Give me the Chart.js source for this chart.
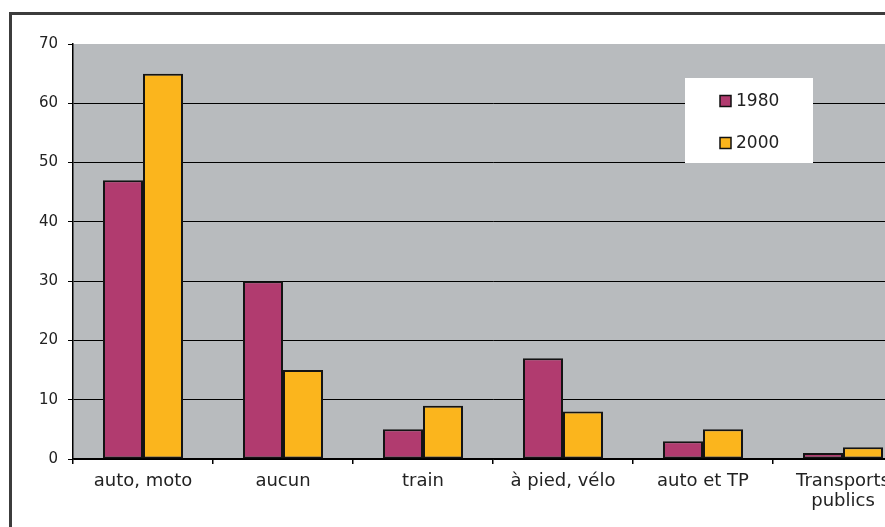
<!DOCTYPE html>
<html>
<head>
<meta charset="utf-8">
<script src="https://cdn.jsdelivr.net/npm/chart.js@4.4.1/dist/chart.umd.min.js"></script>
<style>
  html, body { margin: 0; padding: 0; background: #ffffff; overflow: hidden; width: 885px; height: 527px; }
  #frame { position: absolute; left: 9px; top: 12px; width: 1000px; height: 600px; border: 3px solid #3c3c3c; box-sizing: border-box; }
  #wrap { position: absolute; left: 12px; top: 15px; width: 930px; height: 512px; }
</style>
</head>
<body>
<div id="frame"></div>
<div id="wrap"><canvas id="c" width="930" height="512"></canvas></div>
<script>
// Mode de transport principal, part en %
const categories = ['auto, moto', 'aucun', 'train', 'à pied, vélo', 'auto et TP', ['Transports', 'publics']];
const seriesNames = ['1980', '2000'];
const values1980 = [47, 30, 5, 17, 3, 1];
const values2000 = [65, 15, 9, 8, 5, 2];
const yTicks = [0, 10, 20, 30, 40, 50, 60, 70];

const colors = ['#b13b6f', '#fbb51d'];
const FAMILY = "'DejaVu Sans', Verdana, sans-serif";
const Y_FONT = { family: FAMILY, size: 15 };
const X_FONT = { family: FAMILY, size: 18, lineHeight: 1.08 };
const LEGEND_SIZE = 17;

// Grey plot background
const plotBackground = {
  id: 'plotBackground',
  beforeDraw(chart) {
    const { ctx, chartArea: a } = chart;
    ctx.save();
    ctx.fillStyle = '#b8bbbe';
    ctx.fillRect(a.left, a.top, a.right - a.left, a.bottom - a.top);
    ctx.restore();
  }
};

// Boxed legend inside the plot
const boxLegend = {
  id: 'boxLegend',
  afterDraw(chart) {
    const { ctx, chartArea: a } = chart;
    const x = a.left + 612, y = a.top + 34, w = 128, h = 85;
    ctx.save();
    ctx.fillStyle = '#ffffff';
    ctx.fillRect(x, y, w, h);
    ctx.font = LEGEND_SIZE + 'px ' + FAMILY;
    ctx.textBaseline = 'middle';
    chart.data.datasets.forEach((ds, i) => {
      const cy = y + 23 + i * 42;
      ctx.fillStyle = ds.backgroundColor;
      ctx.fillRect(x + 35, cy - 5.5, 11, 11);
      ctx.strokeStyle = '#111';
      ctx.lineWidth = 1.5;
      ctx.strokeRect(x + 35, cy - 5.5, 11, 11);
      ctx.fillStyle = '#222';
      ctx.textAlign = 'left';
      ctx.fillText(ds.label, x + 51, cy + 1);
    });
    ctx.restore();
  }
};

new Chart(document.getElementById('c'), {
  type: 'bar',
  data: {
    labels: categories,
    datasets: [
      { label: seriesNames[0], data: values1980, backgroundColor: colors[0] },
      { label: seriesNames[1], data: values2000, backgroundColor: colors[1] }
    ]
  },
  options: {
    responsive: false,
    animation: false,
    devicePixelRatio: 1,
    layout: { padding: { top: 29, right: 29, left: 0, bottom: 0 } },
    datasets: {
      bar: {
        borderColor: '#141414',
        borderWidth: 2,
        borderSkipped: false,
        categoryPercentage: 80 / 140,
        barPercentage: 1.0
      }
    },
    plugins: {
      legend: { display: false },
      tooltip: { enabled: false }
    },
    scales: {
      x: {
        grid: {
          display: true,
          offset: true,
          drawOnChartArea: false,
          drawTicks: true,
          tickLength: 5,
          color: '#000',
          lineWidth: 1.5
        },
        border: { display: true, color: '#000', width: 1.5 },
        ticks: {
          color: '#222',
          font: X_FONT,
          padding: 8,
          maxRotation: 0,
          autoSkip: false
        },
        afterFit(scale) { scale.height = 68; }
      },
      y: {
        min: 0,
        max: 70,
        afterBuildTicks(scale) { scale.ticks = yTicks.map(v => ({ value: v })); },
        grid: {
          color: (c) => (c.tick && c.tick.value === 70) ? 'rgba(0,0,0,0)' : '#000',
          tickColor: '#000',
          lineWidth: 1,
          tickLength: 5
        },
        border: { display: true, color: '#000', width: 1.5 },
        ticks: {
          color: '#222',
          font: Y_FONT,
          padding: 10
        },
        afterFit(scale) { scale.width = 61; }
      }
    }
  },
  plugins: [plotBackground, boxLegend]
});
</script>
</body>
</html>
